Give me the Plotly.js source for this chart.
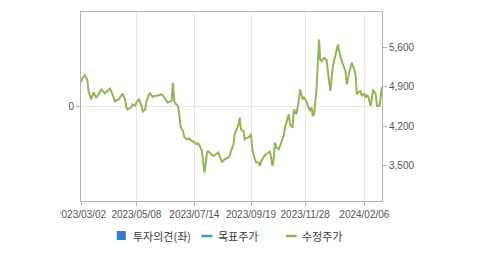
<!DOCTYPE html>
<html>
<head>
<meta charset="utf-8">
<script src="https://cdn.plot.ly/plotly-3.0.1.min.js"></script>
<style>html,body{margin:0;padding:0;background:#fff;}#chart{width:479px;height:255px;}</style>
</head>
<body>
<div id="chart"></div>
<script>
// trading-day index of each observation (0 = 2023/03/02)
const days = [
  0,1,3,5,6,8,10,12,14,16,
  19,21,23,25,27,28,30,32,33,35,
  36,37,40,41,43,44,46,48,49,51,
  52,54,55,57,58,61,64,65,68,69,
  71,72,73,74,75,77,78,79,80,81,
  82,84,86,88,90,92,93,94,96,97,
  98,99,100,101,102,105,107,109,110,112,
  113,114,117,118,120,121,122,124,125,126,
  127,129,130,131,133,135,136,138,139,141,
  142,143,145,146,149,150,152,153,154,155,
  157,159,161,162,164,165,166,168,169,171,
  173,174,176,177,179,180,182,183,184,185,
  187,188,189,190,191,193,195,196,197,198,
  200,201,202,204,205,206,207,209,210,211,
  212,213,214,215,217,218,219,221,222,223,
  225,226,227,228,230,231,232,234,235,236,
  237,239
];
// 수정주가 (adjusted price)
const adjPrice = [
  4980,5052,5111,5034,4825,4677,4802,4712,4766,4855,
  4784,4820,4873,4766,4641,4659,4677,4748,4784,4677,
  4534,4498,4534,4588,4570,4623,4677,4570,4463,4498,
  4641,4766,4784,4718,4736,4748,4766,4748,4646,4618,
  4641,4659,4975,4646,4605,4557,4409,4200,4141,4111,
  3998,3962,3980,3932,3909,3873,3891,3855,3754,3516,
  3368,3516,3730,3748,3725,3664,3695,3725,3659,3557,
  3575,3605,3636,3664,3814,3855,4052,4177,4230,4350,
  4141,4111,3962,3980,3993,4052,3784,3605,3552,3546,
  3486,3570,3650,3677,3725,3748,3486,3605,3904,3820,
  3784,3927,4034,4177,4320,4409,4230,4171,4498,4409,
  4677,4855,4677,4712,4646,4570,4468,4534,4379,4409,
  4855,5361,5748,5391,5361,5421,5391,5182,4998,4825,
  5271,5361,5480,5659,5539,5445,5361,5248,5182,4945,
  5088,5154,5248,5332,5213,5123,4766,4820,4825,4736,
  4784,4707,4748,4736,4557,4677,4855,4766,4557,4557,
  4557,4904
];
// 투자의견 / 목표주가 : no values shown in the chart
const opinionDays = [];
const opinion = [];
const targetDays = [];
const targetPrice = [];

const xTickDays = [0,44,90,135,178,225];
const xTickLabels = ['2023/03/02','2023/05/08','2023/07/14','2023/09/19','2023/11/28','2024/02/06'];
const leftTicks = [0];
const rightTicks = [3500,4200,4900,5600];

const seriesNames = ['투자의견(좌)','목표주가','수정주가'];
const seriesColors = ['#3a78d8','#38a0b6','#93b553'];

const font = 'Liberation Sans, Arial, "Noto Sans CJK KR", sans-serif';
const kfont = '"Noto Sans CJK KR", "Liberation Sans", sans-serif';

const traces = [
  {type:'bar', x:opinionDays, y:opinion, name:seriesNames[0], yaxis:'y',
   marker:{color:seriesColors[0]}},
  {type:'scatter', mode:'lines', x:targetDays, y:targetPrice, name:seriesNames[1], yaxis:'y2',
   line:{color:seriesColors[1], width:2}},
  {type:'scatter', mode:'lines', x:days, y:adjPrice, name:seriesNames[2], yaxis:'y2',
   line:{color:seriesColors[2], width:2}, hoverinfo:'skip'}
];

// legend drawn below the plot (paper coordinates)
const PW = 300, PH = 189;
const px = v => (v - 81) / PW;
const py = v => (201 - v) / PH;
const legY = 236;
const shapes = [
  {type:'rect', xref:'paper', yref:'paper', x0:px(116.7), x1:px(125.7), y0:py(240), y1:py(231),
   fillcolor:seriesColors[0], line:{width:0}},
  {type:'line', xref:'paper', yref:'paper', x0:px(201), x1:px(212), y0:py(legY), y1:py(legY),
   line:{color:seriesColors[1], width:2.5}},
  {type:'line', xref:'paper', yref:'paper', x0:px(285), x1:px(296), y0:py(legY), y1:py(legY),
   line:{color:seriesColors[2], width:2.5}},
  // crop of the first date label, as in the original
  {type:'rect', xref:'paper', yref:'paper', x0:px(40), x1:px(60.5), y0:py(222), y1:py(204),
   fillcolor:'#fff', line:{width:0}, layer:'above'}
];
const legX = [131, 216, 299];
const annotations = seriesNames.map((n, i) => ({
  text:n, xref:'paper', yref:'paper', x:px(legX[i]), y:py(legY), xanchor:'left', yanchor:'middle',
  showarrow:false, font:{family:kfont, size:11, color:'#3a3a3a'}
}));

const layout = {
  width:479, height:255,
  margin:{l:81, r:97, t:12, b:54, pad:0},
  paper_bgcolor:'#fff', plot_bgcolor:'#fff',
  showlegend:false,
  shapes:shapes, annotations:annotations,
  xaxis:{range:[0,239], tickmode:'array', tickvals:xTickDays, ticktext:xTickLabels,
         showgrid:true, gridcolor:'#e6e6e6', gridwidth:1,
         showline:true, linecolor:'#b3b3b3', linewidth:1, mirror:true,
         ticks:'outside', ticklen:4, tickcolor:'#b3b3b3',
         tickfont:{family:font, size:10, color:'#555'}, zeroline:false, fixedrange:true},
  yaxis:{range:[-1,1], tickmode:'array', tickvals:leftTicks, ticktext:['0'],
         showgrid:true, gridcolor:'#e6e6e6',
         showline:true, linecolor:'#b3b3b3', linewidth:1, mirror:true,
         ticks:'outside', ticklen:4, tickcolor:'#b3b3b3',
         tickfont:{family:font, size:10, color:'#555'}, zeroline:false, fixedrange:true},
  yaxis2:{range:[2857,6243], overlaying:'y', side:'right', tickmode:'array',
          tickvals:rightTicks, tickformat:',d', showgrid:false, zeroline:false,
          showline:false, ticks:'outside', ticklen:4, tickcolor:'#b3b3b3',
          tickfont:{family:font, size:10, color:'#555'}, fixedrange:true},
  bargap:0
};

Plotly.newPlot('chart', traces, layout, {displayModeBar:false, staticPlot:true});
</script>
</body>
</html>
